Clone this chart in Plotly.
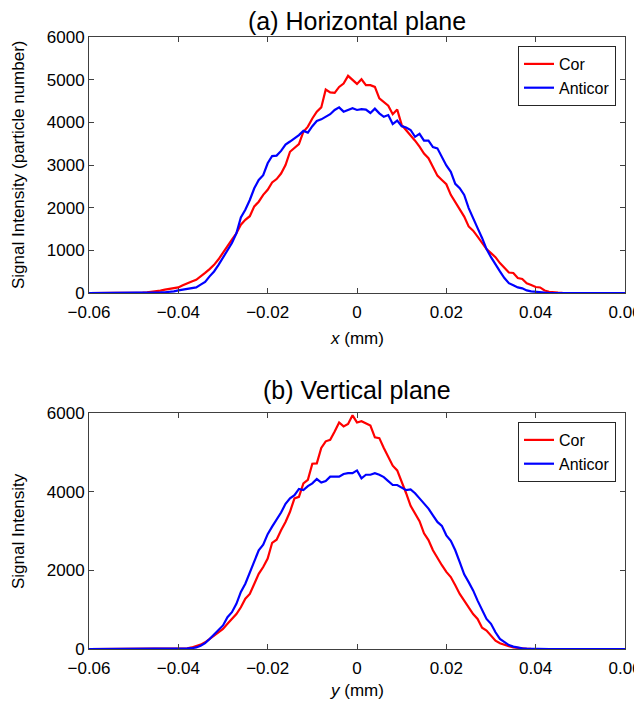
import numpy as np
import plotly.graph_objects as go
from plotly.subplots import make_subplots

# Sample positions (mm), one every 0.001 mm from -0.06 to 0.06
x_mm = np.round(np.linspace(-0.06, 0.06, 121), 3)

# (a) Horizontal plane
h_cor = [0, 0, 0, 0, 0, 0, 0, 0, 0, 0,
         5, 8, 12, 18, 25, 35, 55, 80, 95, 110,
         130, 180, 230, 270, 310, 380, 470, 560, 660, 790,
         935, 1090, 1250, 1400, 1600, 1715, 1800, 2030, 2140, 2300,
         2420, 2590, 2670, 2800, 3000, 3310, 3390, 3490, 3780, 3900,
         4090, 4250, 4350, 4770, 4700, 4690, 4830, 4910, 5090, 5000,
         4900,
         5010, 4870, 4870, 4830, 4560, 4470, 4390, 4190, 4300, 3940,
         3820, 3700, 3570, 3430, 3270, 3160, 2960, 2750, 2650, 2550,
         2300, 2120, 1950, 1790, 1560, 1460, 1320, 1170, 1030, 935,
         840, 700, 585, 480, 470, 350, 330, 230, 190, 140,
         130, 60, 30, 15, 8, 3, 0, 0, 0, 0,
         0, 0, 0, 0, 0, 0, 0, 0, 0, 0]
h_anticor = [0, 0, 0, 0, 0, 0, 0, 0, 0, 0,
             0, 0, 2, 4, 6, 10, 14, 18, 25, 40,
             60, 80, 95, 110, 130, 195, 260, 390, 505, 660,
             840, 1010, 1170, 1400, 1770, 1950, 2180, 2455, 2650, 2760,
             3040, 3210, 3220, 3330, 3480, 3550, 3620, 3700, 3800, 3760,
             3910, 4030, 4070, 4130, 4190, 4290, 4350, 4250, 4290, 4330,
             4290,
             4310, 4300, 4220, 4320, 4210, 4130, 4170, 3960, 4040, 3910,
             3880, 3820, 3660, 3730, 3570, 3570, 3420, 3390, 3200, 2990,
             2840, 2560, 2455, 2300, 1990, 1740, 1520, 1290, 1030, 840,
             660, 505, 350, 230, 180, 130, 110, 60, 40, 25,
             15, 8, 4, 0, 0, 0, 0, 0, 0, 0,
             0, 0, 0, 0, 0, 0, 0, 0, 0, 0]

# (b) Vertical plane
v_cor = [0, 0, 0, 0, 0, 0, 0, 0, 0, 0,
         0, 0, 0, 0, 0, 0, 0, 0, 0, 0,
         5, 10, 17, 40, 70, 110, 170, 255, 340, 425,
         510, 640, 765, 890, 1060, 1280, 1400, 1660, 1910, 2085,
         2300, 2700, 2780, 3020, 3230, 3490, 3830, 3870, 4210, 4300,
         4710, 4720, 5110, 5280, 5320, 5530, 5760, 5660, 5720, 5940,
         5760,
         5790, 5740, 5680, 5380, 5360, 5110, 4890, 4660, 4540, 4260,
         3960, 3640, 3450, 3250, 2940, 2770, 2510, 2300, 2130, 1960,
         1830, 1620, 1400, 1230, 1060, 890, 765, 540, 470, 340,
         210, 145, 100, 70, 40, 25, 12, 6, 2, 0,
         0, 0, 0, 0, 0, 0, 0, 0, 0, 0,
         0, 0, 0, 0, 0, 0, 0, 0, 0, 0]
v_anticor = [0, 0, 0, 0, 0, 0, 0, 0, 0, 0,
             0, 0, 0, 0, 0, 0, 0, 0, 0, 0,
             5, 10, 15, 20, 40, 85, 150, 255, 365, 485,
             600, 810, 935, 1150, 1450, 1660, 1960, 2255, 2510, 2650,
             2920, 3110, 3280, 3470, 3690, 3830, 3910, 4070, 4040, 4140,
             4210, 4320, 4230, 4270, 4380, 4380, 4380, 4450, 4470, 4470,
             4540,
             4340, 4430, 4430, 4470, 4430, 4370, 4270, 4170, 4170, 4110,
             4040, 4060, 3960, 3830, 3700, 3570, 3400, 3230, 3130, 2890,
             2750, 2510, 2210, 1900, 1700, 1490, 1230, 980, 765, 640,
             425, 255, 170, 100, 60, 35, 18, 8, 3, 0,
             0, 0, 0, 0, 0, 0, 0, 0, 0, 0,
             0, 0, 0, 0, 0, 0, 0, 0, 0, 0]

x_ticks = [-0.06, -0.04, -0.02, 0, 0.02, 0.04, 0.06]
x_ticktext = ["\u22120.06", "\u22120.04", "\u22120.02", "0", "0.02", "0.04", "0.06"]
h_yticks = [0, 1000, 2000, 3000, 4000, 5000, 6000]
v_yticks = [0, 2000, 4000, 6000]

FONT = "Liberation Sans, Arial, sans-serif"
AX = "#404040"
OFF = 8                     # page body margin
W, H = 642 - OFF, 707 - OFF

fig = make_subplots(rows=2, cols=1)

fig.add_trace(go.Scatter(x=x_mm, y=h_cor, mode="lines", name="Cor",
                         line=dict(color="#ff0000", width=2.2), legend="legend"), row=1, col=1)
fig.add_trace(go.Scatter(x=x_mm, y=h_anticor, mode="lines", name="Anticor",
                         line=dict(color="#0000ff", width=2.2), legend="legend"), row=1, col=1)
fig.add_trace(go.Scatter(x=x_mm, y=v_cor, mode="lines", name="Cor",
                         line=dict(color="#ff0000", width=2.2), legend="legend2"), row=2, col=1)
fig.add_trace(go.Scatter(x=x_mm, y=v_anticor, mode="lines", name="Anticor",
                         line=dict(color="#0000ff", width=2.2), legend="legend2"), row=2, col=1)

# pixel box of each panel (screen coordinates)
xl, xr = 89, 625
top_box = (37, 293)
bot_box = (413, 649)


def px(p):
    return (p - OFF) / W


def py(p):
    return 1 - (p - OFF) / H


axis_common = dict(showgrid=False, zeroline=False, showline=True, linecolor=AX, linewidth=1,
                   mirror="ticks", ticks="inside", ticklen=5, tickcolor=AX, tickwidth=1,
                   tickfont=dict(family=FONT, size=17, color="#000000"), automargin=False)

fig.update_xaxes(axis_common, range=[-0.06, 0.06], tickvals=x_ticks, ticktext=x_ticktext,
                 domain=[px(xl), px(xr)], ticklabelstandoff=4)
fig.update_yaxes(axis_common, range=[0, 6000])
fig.update_yaxes(tickvals=h_yticks, domain=[py(top_box[1]), py(top_box[0])], row=1, col=1)
fig.update_yaxes(tickvals=v_yticks, domain=[py(bot_box[1]), py(bot_box[0])], row=2, col=1)

ann = []
xc = px((xl + xr) / 2)
ann.append(dict(text="(a) Horizontal plane", x=xc, y=py(21), font=dict(size=25)))
ann.append(dict(text="(b) Vertical plane", x=xc, y=py(390), font=dict(size=25)))
ann.append(dict(text="<i>x</i> (mm)", x=xc, y=py(339), font=dict(size=17)))
ann.append(dict(text="<i>y</i> (mm)", x=xc, y=py(690), font=dict(size=17)))
ann.append(dict(text="Signal Intensity (particle number)", x=px(18),
                y=py((top_box[0] + top_box[1]) / 2), textangle=-90, font=dict(size=17)))
ann.append(dict(text="Signal Intensity", x=px(18),
                y=py((bot_box[0] + bot_box[1]) / 2), textangle=-90, font=dict(size=17)))
for a in ann:
    a.update(xref="paper", yref="paper", showarrow=False, xanchor="center", yanchor="middle")
    a["font"].update(family=FONT, color="#000000")

legend_style = dict(xref="paper", yref="paper", xanchor="right", yanchor="top",
                    bgcolor="white", bordercolor="#262626", borderwidth=1,
                    font=dict(family=FONT, size=16, color="#000000"),
                    itemwidth=30, tracegroupgap=0)

fig.update_layout(
    width=W, height=H,
    margin=dict(l=0, r=0, t=0, b=0),
    paper_bgcolor="white", plot_bgcolor="white",
    font=dict(family=FONT),
    showlegend=True,
    annotations=ann,
    legend=dict(legend_style, x=px(616), y=py(46)),
    legend2=dict(legend_style, x=px(616), y=py(422)),
)

fig.write_html("out.html")
